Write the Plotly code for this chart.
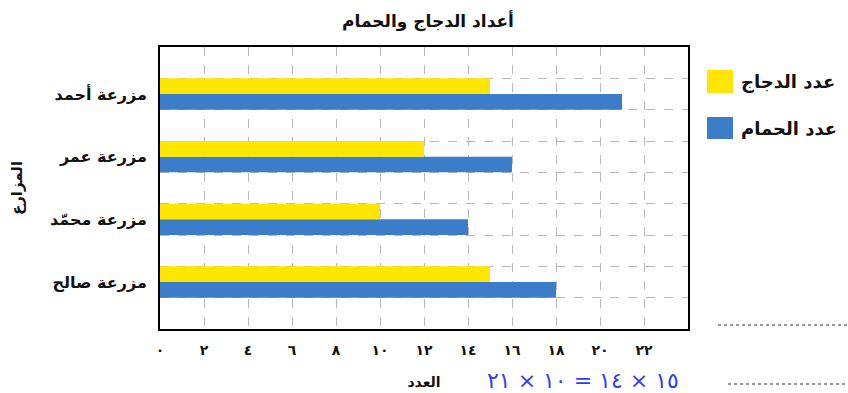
import plotly.graph_objects as go

# Data
farms = ["مزرعة أحمد", "مزرعة عمر", "مزرعة محمّد", "مزرعة صالح"]
chickens = [15, 12, 10, 15]
pigeons = [21, 16, 14, 18]
series_names = ["عدد الدجاج", "عدد الحمام"]
x_ticks = [0, 2, 4, 6, 8, 10, 12, 14, 16, 18, 20, 22]
x_tick_labels = ["٠", "٢", "٤", "٦", "٨", "١٠", "١٢", "١٤", "١٦", "١٨", "٢٠", "٢٢"]
title_text = "أعداد الدجاج والحمام"
x_title = "العدد"
y_title = "المزارع"
note_text = "٢١ × ١٠ = ١٤ × ١٥"

YELLOW = "#FFE600"
BLUE = "#3B7DC8"
FONT = "DejaVu Sans"

W, H = 848, 393
L, R, T, B = 160, 160, 47, 64
PW, PH = W - L - R, H - T - B

def px(x):
    return (x - L) / PW

def py(y):
    return 1 - (y - T) / PH

# farms listed top to bottom
y_pos = list(range(len(farms)))[::-1]

fig = go.Figure()
# pigeons first so that chickens sit above them in each group
fig.add_trace(go.Bar(y=y_pos, x=pigeons, orientation="h", name=series_names[1],
                     marker=dict(color=BLUE, line=dict(width=0)), showlegend=False))
fig.add_trace(go.Bar(y=y_pos, x=chickens, orientation="h", name=series_names[0],
                     marker=dict(color=YELLOW, line=dict(width=0)), showlegend=False))

fig.update_layout(
    width=W, height=H,
    margin=dict(l=L, r=R, t=T, b=B, autoexpand=False),
    paper_bgcolor="white", plot_bgcolor="white",
    barmode="group", bargap=0.5, bargroupgap=0,
    font=dict(family=FONT, color="#111111"),
    title=dict(text="<b>" + title_text + "</b>", x=428 / W, xanchor="center",
               y=1 - 21 / H, yanchor="middle", font=dict(size=17)),
)

fig.update_xaxes(
    range=[0, 24], tickvals=x_ticks, ticktext=["<b>" + t + "</b>" for t in x_tick_labels],
    tickfont=dict(size=14, family=FONT), ticklabelstandoff=7, automargin=False,
    showgrid=True, gridcolor="#b8b8b8", gridwidth=1, griddash="dash",
    showline=True, linecolor="black", linewidth=2, mirror=True,
    zeroline=False, ticks="",
    title=dict(text="<b>" + x_title + "</b>", font=dict(size=14), standoff=20),
)
fig.update_yaxes(
    range=[-0.75, 3.75], tickvals=y_pos, ticktext=["<b>" + f + "</b>" for f in farms],
    tickfont=dict(size=16, family=FONT), ticklabelstandoff=8, automargin=False,
    showgrid=False, zeroline=False, ticks="",
    showline=True, linecolor="black", linewidth=2, mirror=True,
    minor=dict(tick0=0.25, dtick=0.5, showgrid=True, gridcolor="#b8b8b8",
               gridwidth=1, griddash="dash", ticks=""),
    title=dict(text="<b>" + y_title + "</b>", font=dict(size=15), standoff=24),
)

# Legend drawn as large swatches with labels on the right
legend_items = [(series_names[0], YELLOW, 70, 93), (series_names[1], BLUE, 117, 139)]
for name, color, y0, y1 in legend_items:
    fig.add_shape(type="rect", xref="paper", yref="paper",
                  x0=px(707), x1=px(733), y0=py(y1), y1=py(y0),
                  fillcolor=color, line=dict(width=0), layer="above")
    fig.add_annotation(xref="paper", yref="paper", x=px(739), y=py((y0 + y1) / 2),
                       text="<b>" + name + "</b>", showarrow=False,
                       xanchor="left", yanchor="middle",
                       font=dict(size=18, family=FONT, color="#111111"))

# worksheet answer lines and handwritten working
for x0, yy in [(718, 325), (728, 384)]:
    fig.add_shape(type="line", xref="paper", yref="paper",
                  x0=px(x0), x1=px(W), y0=py(yy), y1=py(yy),
                  line=dict(color="#333333", width=1, dash="dot"))
fig.add_annotation(xref="paper", yref="paper", x=px(485), y=py(380),
                   text="\u202d" + note_text + "\u202c", showarrow=False,
                   xanchor="left", yanchor="middle",
                   font=dict(size=22, family=FONT, color="#2F3FF0"))

fig.write_html("out.html")
